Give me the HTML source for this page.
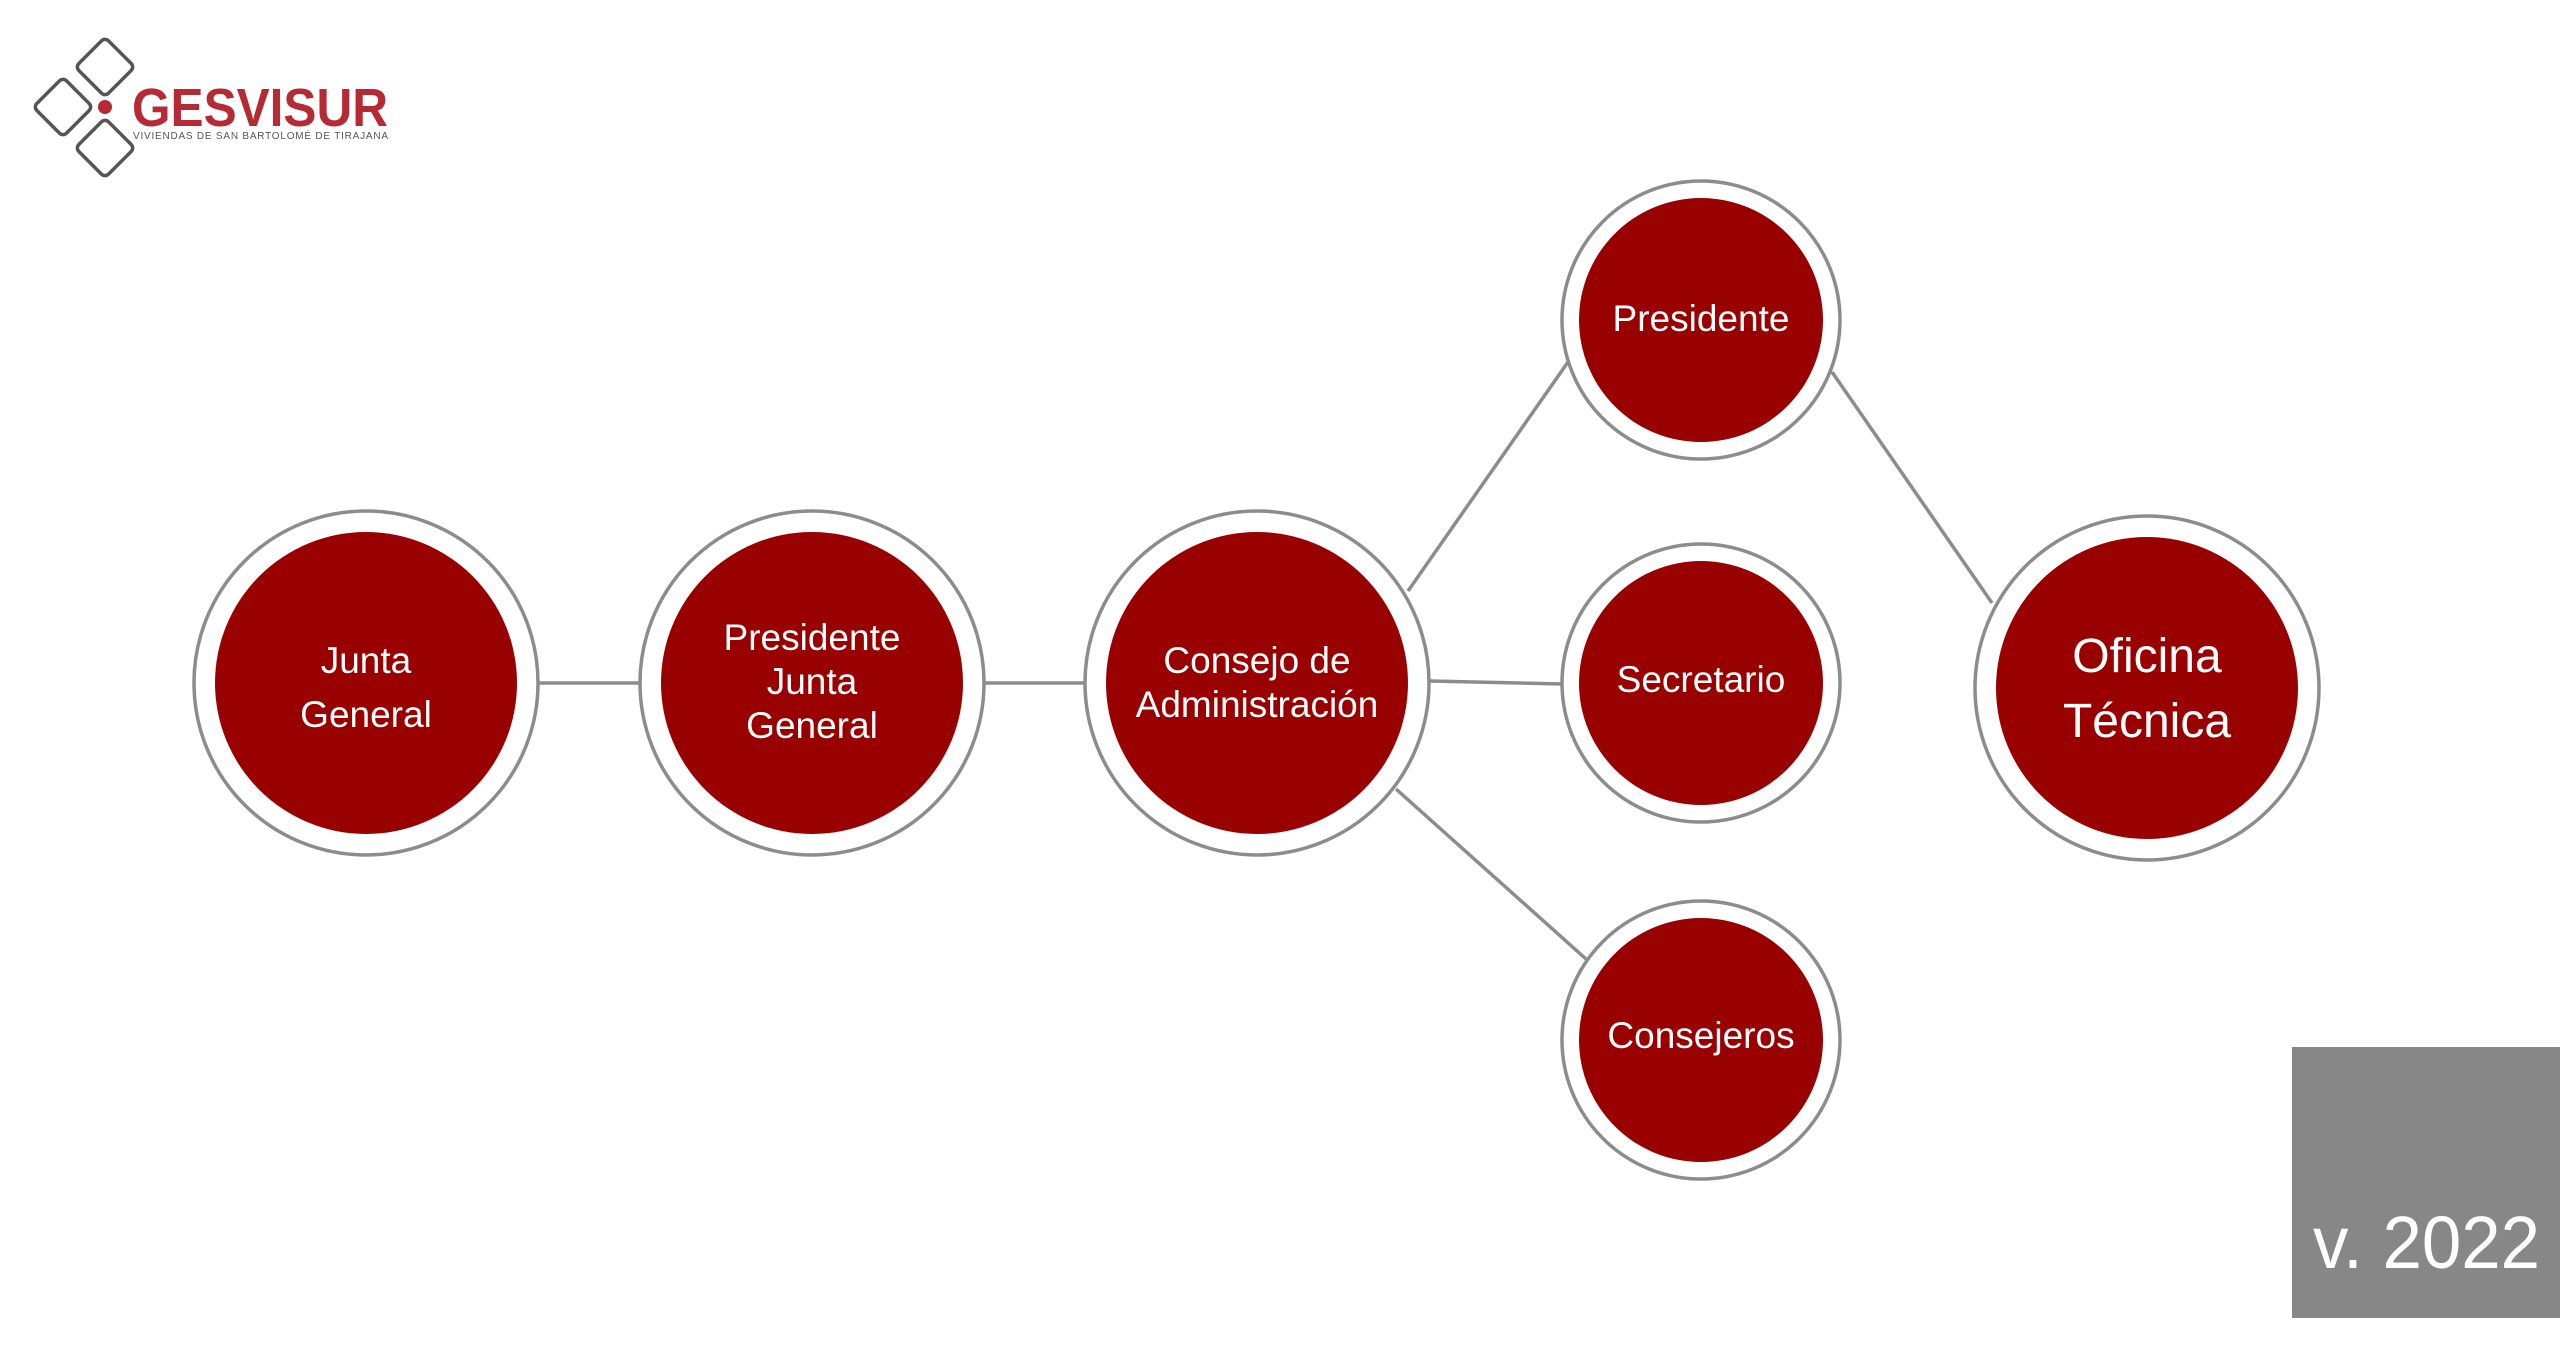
<!DOCTYPE html>
<html><head><meta charset="utf-8"><style>
html,body{margin:0;padding:0;background:#fff;}
svg{display:block;}
</style></head><body>
<svg width="2560" height="1357" viewBox="0 0 2560 1357" xmlns="http://www.w3.org/2000/svg">
<rect width="2560" height="1357" fill="#fff"/>
<!-- logo -->
<g fill="none" stroke="#555" stroke-width="3.5" stroke-linejoin="round">
<rect x="84" y="46" width="42" height="42" rx="5" transform="rotate(45 105 67)"/>
<rect x="42" y="86" width="42" height="42" rx="5" transform="rotate(45 63 107)"/>
<rect x="84" y="127" width="42" height="42" rx="5" transform="rotate(45 105 148)"/>
</g>
<circle cx="105" cy="107" r="7" fill="#b52a33"/>
<text x="132" y="126" font-family="Liberation Sans, sans-serif" font-weight="bold" font-size="54" fill="#b52a33" textLength="256" lengthAdjust="spacingAndGlyphs">GESVISUR</text>
<text x="133" y="139" font-family="Liberation Sans, sans-serif" font-size="10" fill="#555" textLength="255" lengthAdjust="spacing">VIVIENDAS DE SAN BARTOLOMÉ DE TIRAJANA</text>
<!-- connectors -->
<g stroke="#8c8c8c" stroke-width="3.5" fill="none">
<line x1="539" y1="683" x2="639" y2="683"/>
<line x1="985" y1="683" x2="1084" y2="683"/>
<line x1="1408" y1="591" x2="1568" y2="362"/>
<line x1="1430" y1="681" x2="1563" y2="684"/>
<line x1="1396" y1="789" x2="1586" y2="959"/>
<line x1="1832" y1="372" x2="1992" y2="603"/>
</g>
<!-- nodes -->
<g stroke="#8c8c8c" stroke-width="3.5" fill="#fff">
<circle cx="366" cy="683" r="172"/>
<circle cx="812" cy="683" r="172"/>
<circle cx="1257" cy="683" r="172"/>
<circle cx="1701" cy="320" r="139"/>
<circle cx="1701" cy="683" r="139"/>
<circle cx="1701" cy="1040" r="139"/>
<circle cx="2147" cy="688" r="172"/>
</g>
<g fill="#990000">
<circle cx="366" cy="683" r="151"/>
<circle cx="812" cy="683" r="151"/>
<circle cx="1257" cy="683" r="151"/>
<circle cx="1701" cy="320" r="122"/>
<circle cx="1701" cy="683" r="122"/>
<circle cx="1701" cy="1040" r="122"/>
<circle cx="2147" cy="688" r="151"/>
</g>
<g fill="#fff" font-family="Liberation Sans, sans-serif" font-size="37" text-anchor="middle">
<text x="366" y="673">Junta</text>
<text x="366" y="727">General</text>
<text x="812" y="650">Presidente</text>
<text x="812" y="694">Junta</text>
<text x="812" y="738">General</text>
<text x="1257" y="673">Consejo de</text>
<text x="1257" y="717">Administración</text>
<text x="1701" y="331">Presidente</text>
<text x="1701" y="692">Secretario</text>
<text x="1701" y="1048">Consejeros</text>
<text x="2147" y="672" font-size="48">Oficina</text>
<text x="2147" y="737" font-size="48">Técnica</text>
</g>
<!-- version box -->
<rect x="2292" y="1047" width="268" height="271" fill="#878787"/>
<text x="2313" y="1268" font-family="Liberation Sans, sans-serif" font-size="74" fill="#fff" textLength="227" lengthAdjust="spacingAndGlyphs">v. 2022</text>
</svg>
</body></html>
